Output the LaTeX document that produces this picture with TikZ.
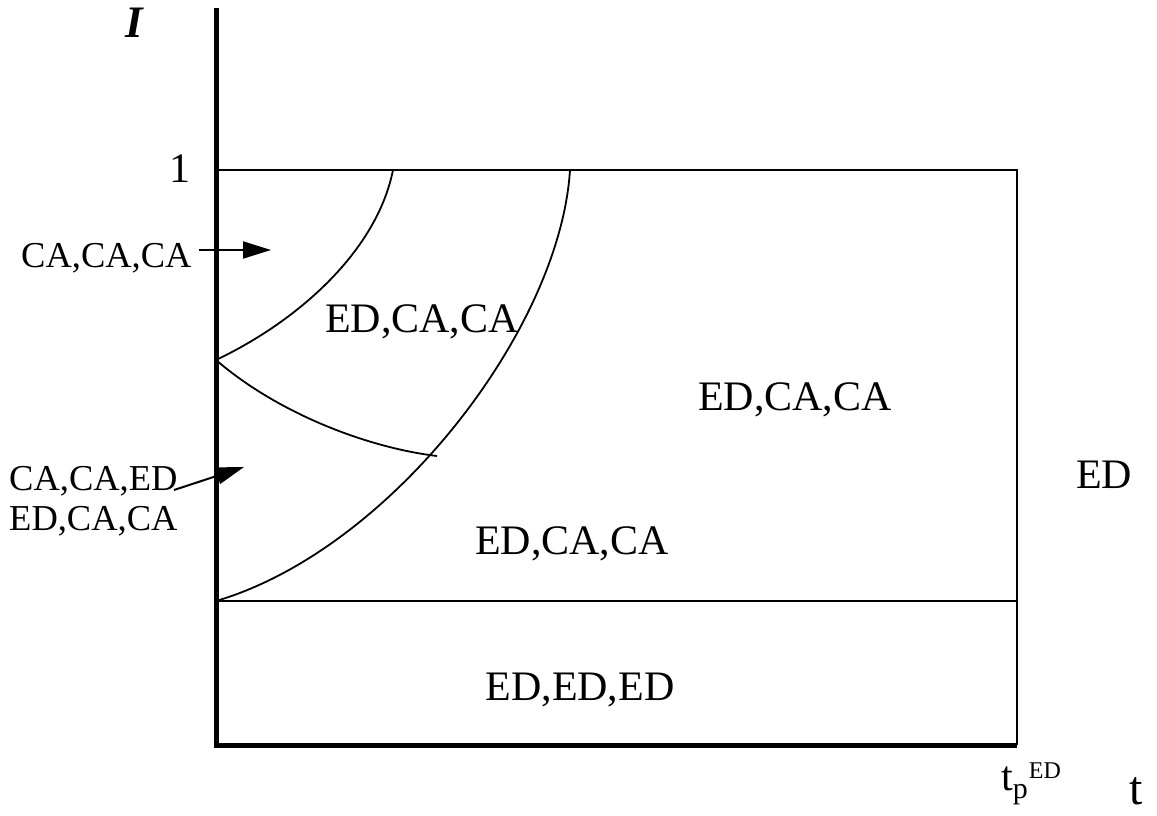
\documentclass[tikz,border=0pt]{standalone}
\usepackage{fontspec}
\setmainfont{Liberation Serif}
\usetikzlibrary{arrows.meta}
\begin{document}
\begin{tikzpicture}[x=1pt,y=-1pt,
  big/.style={font=\fontsize{42}{48}\selectfont, inner sep=0pt, anchor=base},
  small/.style={font=\fontsize{36.5}{40}\selectfont, inner sep=0pt, anchor=base west},
  axis/.style={line width=5pt},
  thin/.style={line width=2pt},
  curve/.style={line width=1.8pt},
  ptr/.style={line width=2pt, -{Triangle[length=28pt,width=17pt]}}]
\useasboundingbox (0,0) rectangle (1157,816);
% coordinates
\coordinate (O) at (216,745);
\coordinate (Ytop) at (216,8);
\coordinate (Xend) at (1017,745);
\coordinate (TL) at (216,170);
\coordinate (TR) at (1017,170);
\coordinate (ML) at (216,601);
\coordinate (MR) at (1017,601);
\coordinate (A) at (216,360);
\coordinate (B) at (393,170);
\coordinate (C) at (570,170);
\coordinate (D) at (437,456);
% frame
\draw[thin] (TL) -- (TR) -- (Xend);
\draw[thin] (ML) -- (MR);
\draw[axis] (Ytop) -- (O) -- (Xend);
% curves
\draw[curve] (A) .. controls (300,320) and (377,250) .. (B);
\draw[curve] (ML) .. controls (390,550) and (560,330) .. (C);
\draw[curve] (A) .. controls (280,415) and (370,448) .. (D);
% labels
\node[font=\fontsize{45}{48}\selectfont\bfseries\itshape, inner sep=0pt, anchor=base] (lab) at (134,38) {I};
\node[big] (one) at (180,182) {1};
\node[small] (ccc) at (21,267) {CA,CA,CA};
\node[big] (r1) at (422,332) {ED,CA,CA};
\node[big] (r2) at (795,410) {ED,CA,CA};
\node[big] (r3) at (1104,488) {ED};
\node[small] (cce) at (9,490) {CA,CA,ED};
\node[small] (ecc) at (9,530) {ED,CA,CA};
\node[big] (r4) at (572,554) {ED,CA,CA};
\node[big] (r5) at (580,700) {ED,ED,ED};
\node[font=\fontsize{42}{44}\selectfont, inner sep=0pt, anchor=base west] (tp) at (1001,790)
  {t\raisebox{-8pt}{\fontsize{30}{32}\selectfont p}\hspace{1pt}\raisebox{12pt}{\fontsize{24}{28}\selectfont ED}};
\node[font=\fontsize{48}{50}\selectfont, inner sep=0pt, anchor=base] (t) at (1136,804) {t};
% pointers
\coordinate (p1s) at (199,250);
\coordinate (p1e) at (271,250);
\coordinate (p2s) at (174,490);
\coordinate (p2e) at (244,467);
\draw[ptr] (p1s) -- (p1e);
\draw[ptr] (p2s) -- (p2e);
\end{tikzpicture}
\end{document}
